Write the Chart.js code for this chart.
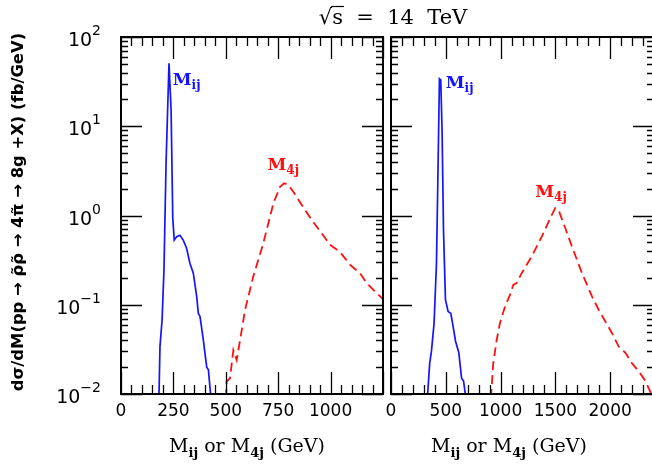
<!DOCTYPE html>
<html>
<head>
<meta charset="utf-8">
<script src="https://cdn.jsdelivr.net/npm/chart.js@4/dist/chart.umd.min.js"></script>
<style>
html, body { margin: 0; padding: 0; background: #fff; overflow: hidden; }
#wrap { position: relative; width: 652px; height: 468px; overflow: hidden; }
canvas { position: absolute; left: 0; top: 0; }
</style>
</head>
<body>
<div id="wrap">
    <canvas id="leftChart" width="652" height="468"></canvas>
    <canvas id="rightChart" width="655" height="468"></canvas>
</div>
<script>
// --- data ---
const leftIjMass  = [181, 186, 196, 205, 215, 229, 239, 247, 254, 266, 281, 297, 313, 329, 345, 361, 369, 377, 393, 409, 417, 429];
const leftIjValue = [0.009, 0.034, 0.068, 0.246, 3.9, 50.7, 15.2, 0.93, 0.53, 0.58, 0.60, 0.53, 0.43, 0.29, 0.226, 0.124, 0.080, 0.074, 0.040, 0.020, 0.0187, 0.009];

const leftJ4Mass  = [501, 504, 520, 536, 552, 568, 592, 631, 679, 727, 759, 778, 798, 822, 862, 910, 958, 997, 1045, 1093, 1140, 1172, 1204, 1252];
const leftJ4Value = [0.009, 0.0138, 0.015, 0.031, 0.024, 0.040, 0.088, 0.207, 0.49, 1.37, 2.1, 2.3, 2.2, 1.85, 1.32, 0.89, 0.63, 0.47, 0.39, 0.28, 0.226, 0.175, 0.147, 0.114];

const rightIjMass  = [332, 353, 369, 393, 415, 430, 442, 454, 466, 479, 497, 521, 546, 567, 589, 619, 644, 662, 683];
const rightIjValue = [0.009, 0.022, 0.030, 0.062, 0.29, 3.9, 34, 33, 9.1, 0.69, 0.114, 0.084, 0.080, 0.057, 0.039, 0.029, 0.015, 0.014, 0.009];

const rightJ4Mass  = [912, 933, 964, 994, 1040, 1086, 1116, 1147, 1193, 1285, 1376, 1452, 1498, 1528, 1574, 1651, 1743, 1834, 1895, 1956, 2017, 2078, 2139, 2200, 2261, 2322, 2383];
const rightJ4Value = [0.009, 0.022, 0.040, 0.062, 0.095, 0.129, 0.167, 0.175, 0.226, 0.35, 0.58, 0.93, 1.21, 1.16, 0.82, 0.45, 0.226, 0.124, 0.088, 0.065, 0.048, 0.034, 0.029, 0.022, 0.0179, 0.014, 0.0095];

const leftXTicks  = [0, 250, 500, 750, 1000];
const rightXTicks = [0, 500, 1000, 1500, 2000];
const yExponents  = [-2, -1, 0, 1, 2];

// curve labels: [mass, value] where the label sits
const leftIjLabelAt  = [247, 29];
const leftJ4LabelAt  = [774, 3.2];
const rightIjLabelAt = [500, 27];
const rightJ4LabelAt = [1460, 1.6];

const BLUE = '#1414ff';
const RED = '#ff1010';
const SERIF = '"DejaVu Serif", "Liberation Serif", serif';
const SANS = '"DejaVu Sans", "Liberation Sans", sans-serif';
const Y_TITLE = 'd\u03C3/dM(pp \u2192 \u03C1\u0303\u03C1\u0303 \u2192 4\u03C0\u0303 \u2192 8g +X) (fb/GeV)';

function points(xs, ys) {
    return xs.map((x, i) => ({ x: x, y: ys[i] }));
}

function drawCurveLabel(ctx, x, y, sub, color, centered) {
    ctx.save();
    ctx.fillStyle = color;
    ctx.textBaseline = 'alphabetic';
    ctx.textAlign = 'left';
    const size = 17;
    ctx.font = `bold ${size}px ${SERIF}`;
    const w1 = ctx.measureText('M').width;
    ctx.font = `bold ${Math.round(size * 0.72)}px ${SERIF}`;
    const w2 = ctx.measureText(sub).width;
    const x0 = centered ? x - (w1 + w2) / 2 : x;
    ctx.font = `bold ${size}px ${SERIF}`;
    ctx.fillText('M', x0, y);
    ctx.font = `bold ${Math.round(size * 0.72)}px ${SERIF}`;
    ctx.fillText(sub, x0 + w1, y + 4);
    ctx.restore();
}

function drawXTitle(ctx, cx, y) {
    ctx.save();
    ctx.fillStyle = '#000';
    ctx.textBaseline = 'alphabetic';
    ctx.textAlign = 'left';
    const size = 19;
    const subSize = 13;
    const parts = [['M', 'ij'], [' or ', null], ['M', '4j'], [' (GeV)', null]];
    const measure = (p) => {
        ctx.font = `${size}px ${SERIF}`;
        let w = ctx.measureText(p[0]).width;
        if (p[1]) {
            ctx.font = `bold ${subSize}px ${SERIF}`;
            w += ctx.measureText(p[1]).width;
        }
        return w;
    };
    const total = parts.reduce((s, p) => s + measure(p), 0);
    let x = cx - total / 2;
    parts.forEach(p => {
        ctx.font = `${size}px ${SERIF}`;
        ctx.fillText(p[0], x, y);
        let w = ctx.measureText(p[0]).width;
        if (p[1]) {
            ctx.font = `bold ${subSize}px ${SERIF}`;
            ctx.fillText(p[1], x + w, y + 5);
            w += ctx.measureText(p[1]).width;
        }
        x += w;
    });
    ctx.restore();
}

// frame, inward ticks, tick labels and texts
function framePlugin(cfg) {
    return {
        id: 'frame',
        afterDatasetsDraw(chart) {
            const ctx = chart.ctx;
            const a = chart.chartArea;
            const xs = chart.scales.x;
            const ys = chart.scales.y;
            ctx.save();
            ctx.strokeStyle = '#000';

            // x ticks, top and bottom
            ctx.lineWidth = 1.3;
            for (let v = xs.min; v <= xs.max + 0.001; v += cfg.xMinor) {
                const px = Math.round(xs.getPixelForValue(v)) + 0.5;
                const len = (Math.round(v) % cfg.xMajor === 0) ? 22 : 9;
                ctx.beginPath();
                ctx.moveTo(px, a.bottom);
                ctx.lineTo(px, a.bottom - len);
                ctx.stroke();
                ctx.beginPath();
                ctx.moveTo(px, a.top);
                ctx.lineTo(px, a.top + len);
                ctx.stroke();
            }
            // y ticks, left and right
            for (let d = -2; d <= 2; d++) {
                for (let k = 1; k <= 9; k++) {
                    const v = k * Math.pow(10, d);
                    if (v > ys.max * 1.0001) break;
                    const py = Math.round(ys.getPixelForValue(v)) + 0.5;
                    const len = k === 1 ? 21 : 7;
                    ctx.beginPath();
                    ctx.moveTo(a.left, py); ctx.lineTo(a.left + len, py);
                    ctx.moveTo(a.right, py); ctx.lineTo(a.right - len, py);
                    ctx.stroke();
                }
            }
            // frame
            ctx.lineWidth = 2;
            ctx.strokeRect(a.left, a.top, a.right - a.left, a.bottom - a.top);

            // x tick labels
            ctx.fillStyle = '#000';
            ctx.font = `17px ${SANS}`;
            ctx.textAlign = 'center';
            ctx.textBaseline = 'middle';
            cfg.xTicks.forEach(t => {
                ctx.fillText(String(t), xs.getPixelForValue(t), 412);
            });

            // y tick labels (left panel only)
            if (cfg.yLabels) {
                yExponents.forEach(e => {
                    const py = ys.getPixelForValue(Math.pow(10, e));
                    const sup = e < 0 ? '\u2212' + Math.abs(e) : String(e);
                    ctx.textAlign = 'left';
                    ctx.textBaseline = 'alphabetic';
                    ctx.font = `14px ${SANS}`;
                    const ws = ctx.measureText(sup).width;
                    ctx.font = `19px ${SANS}`;
                    const wb = ctx.measureText('10').width;
                    const right = 101;
                    ctx.fillText('10', right - ws - wb, py + 9);
                    ctx.font = `14px ${SANS}`;
                    ctx.fillText(sup, right - ws, py - 2);
                });

                // y axis title, fitted to the reference length
                ctx.save();
                ctx.translate(23, 212);
                ctx.rotate(-Math.PI / 2);
                ctx.textAlign = 'center';
                ctx.textBaseline = 'alphabetic';
                let fs = 15;
                ctx.font = `bold ${fs}px ${SANS}`;
                const w = ctx.measureText(Y_TITLE).width;
                fs = Math.min(17, fs * 358 / w);
                ctx.font = `bold ${fs.toFixed(1)}px ${SANS}`;
                ctx.fillText(Y_TITLE, 0, 0);
                ctx.restore();

                // title
                ctx.font = `21px ${SERIF}`;
                ctx.textAlign = 'left';
                ctx.textBaseline = 'alphabetic';
                const wRoot = ctx.measureText('\u221A').width;
                const wS = ctx.measureText('s').width;
                const rest = '  =  14  TeV';
                const wRest = ctx.measureText(rest).width;
                const tx = 393 - (wRoot + wS + wRest) / 2;
                ctx.fillText('\u221A', tx, 24);
                ctx.fillText('s', tx + wRoot, 24);
                ctx.lineWidth = 1.2;
                ctx.beginPath();
                ctx.moveTo(tx + wRoot - 1, 6.5);
                ctx.lineTo(tx + wRoot + wS + 1, 6.5);
                ctx.stroke();
                ctx.fillText(rest, tx + wRoot + wS, 24);
            }

            // x axis title
            drawXTitle(ctx, cfg.titleX, 452);

            // curve labels
            drawCurveLabel(ctx, xs.getPixelForValue(cfg.ijAt[0]), ys.getPixelForValue(cfg.ijAt[1]), 'ij', BLUE, false);
            drawCurveLabel(ctx, xs.getPixelForValue(cfg.j4At[0]), ys.getPixelForValue(cfg.j4At[1]), '4j', RED, true);

            ctx.restore();
        }
    };
}

function makePanel(id, ij, j4, xMax, padding, cfg) {
    new Chart(document.getElementById(id), {
        type: 'line',
        data: {
            datasets: [
                {
                    data: ij,
                    borderColor: BLUE,
                    borderWidth: 1.7,
                    pointRadius: 0,
                    tension: 0,
                    fill: false
                },
                {
                    data: j4,
                    borderColor: RED,
                    borderWidth: 1.8,
                    borderDash: [9, 5],
                    pointRadius: 0,
                    tension: 0,
                    fill: false
                }
            ]
        },
        options: {
            responsive: false,
            animation: false,
            devicePixelRatio: 1,
            layout: { padding: padding },
            plugins: { legend: { display: false }, tooltip: { enabled: false } },
            scales: {
                x: { type: 'linear', min: 0, max: xMax, display: false },
                y: { type: 'logarithmic', min: 0.01, max: 100, display: false }
            }
        },
        plugins: [framePlugin(cfg)]
    });
}

makePanel('leftChart',
    points(leftIjMass, leftIjValue),
    points(leftJ4Mass, leftJ4Value),
    1250,
    { left: 121, right: 652 - 383, top: 37, bottom: 468 - 394 },
    { xMinor: 50, xMajor: 250, xTicks: leftXTicks, yLabels: true, titleX: 247,
      ijAt: leftIjLabelAt, j4At: leftJ4LabelAt });

makePanel('rightChart',
    points(rightIjMass, rightIjValue),
    points(rightJ4Mass, rightJ4Value),
    2400,
    { left: 391, right: 1, top: 37, bottom: 468 - 394 },
    { xMinor: 100, xMajor: 500, xTicks: rightXTicks, yLabels: false, titleX: 509,
      ijAt: rightIjLabelAt, j4At: rightJ4LabelAt });
</script>
</body>
</html>
